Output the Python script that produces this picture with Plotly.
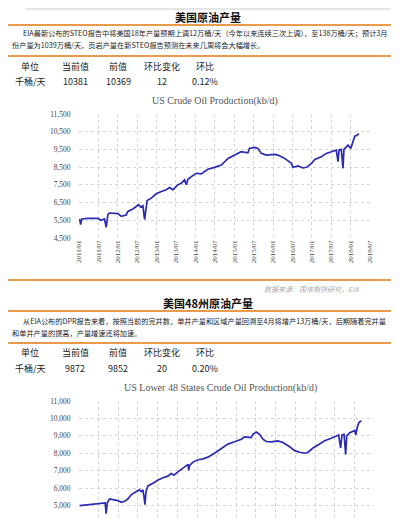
import plotly.graph_objects as go

# ---------------- data ----------------
title1 = "美国原油产量"
title2 = "美国48州原油产量"
para1 = ["EIA最新公布的STEO报告中将美国18年产量预期上调12万桶/天（今年以来连续三次上调），至138万桶/天；预计3月",
         "份产量为1039万桶/天，页岩产量在新STEO报告预测在未来几周将会大幅增长。"]
para2 = ["从EIA公布的DPR报告来看，按照当前的完井数，单井产量和区域产量回溯至4月将增产13万桶/天，后期随着完井量",
         "和单井产量的提高，产量增速还将加速。"]
table_cols = ["单位", "当前值", "前值", "环比变化", "环比"]
table1_vals = ["千桶/天", "10381", "10369", "12", "0.12%"]
table2_vals = ["千桶/天", "9872", "9852", "20", "0.20%"]
source_text = "数据来源：国信期货研究，EIA"
chart1_title = "US Crude Oil Production(kb/d)"
chart2_title = "US Lower 48 States Crude Oil Production(kb/d)"

dates1 = ["2011-01-07", "2011-01-16", "2011-01-28", "2011-03-24", "2011-06-27", "2011-07-28",
          "2011-08-29", "2011-09-14", "2011-09-30", "2011-10-15", "2012-01-03", "2012-02-03",
          "2012-03-20", "2012-04-05", "2012-05-22", "2012-06-22", "2012-07-14", "2012-08-02",
          "2012-08-25", "2012-09-03", "2012-09-10", "2012-09-19", "2012-10-04", "2012-11-11",
          "2012-12-28", "2013-02-14", "2013-04-01", "2013-05-02", "2013-06-03", "2013-06-18",
          "2013-07-19", "2013-08-20", "2013-09-21", "2013-10-06", "2013-10-22", "2013-11-23",
          "2014-01-09", "2014-02-25", "2014-04-12", "2014-04-27", "2014-06-29", "2014-09-01",
          "2014-11-03", "2015-01-05", "2015-03-07", "2015-05-09", "2015-05-24", "2015-07-10",
          "2015-08-11", "2015-09-12", "2015-10-29", "2016-01-16", "2016-02-17", "2016-04-19",
          "2016-06-21", "2016-07-06", "2016-08-23", "2016-10-09", "2016-11-10", "2016-12-27",
          "2017-01-28", "2017-03-30", "2017-05-16", "2017-07-02", "2017-08-18", "2017-09-03",
          "2017-09-13", "2017-10-04", "2017-10-20", "2017-10-29", "2017-12-06", "2018-01-01",
          "2018-01-14", "2018-02-08", "2018-03-01", "2018-03-19"]
vals1 = [5575, 5257, 5575, 5610, 5610, 5500,
         5575, 5107, 5818, 5911, 5874, 5724,
         5800, 6004, 6135, 6285, 6378, 6250,
         6320, 5818, 5537, 6004, 6620, 6750,
         6995, 7126, 7220, 7350, 7220, 7313,
         7500, 7593, 7780, 7500, 7818, 7967,
         8154, 8117, 8304, 8379, 8490, 8620,
         8995, 9182, 9370, 9313, 9556, 9612,
         9556, 9276, 9182, 9220, 9182, 8995,
         8715, 8490, 8565, 8453, 8490, 8715,
         8940, 9090, 9276, 9370, 9463, 8808,
         9463, 9500, 8434, 9500, 9743, 9556,
         9836, 10247, 10303, 10397]

dates2 = ["2011-01-07", "2011-03-23", "2011-06-25", "2011-08-10", "2011-09-01", "2011-09-10",
          "2011-09-20", "2011-10-11", "2011-11-11", "2011-12-28", "2012-01-28", "2012-02-28",
          "2012-03-29", "2012-04-29", "2012-06-15", "2012-07-16", "2012-08-01", "2012-08-16",
          "2012-08-26", "2012-09-04", "2012-09-14", "2012-10-02", "2012-11-18", "2013-01-04",
          "2013-02-19", "2013-04-05", "2013-05-06", "2013-05-31", "2013-07-07", "2013-08-08",
          "2013-09-08", "2013-10-09", "2013-10-15", "2013-10-24", "2013-11-24", "2014-01-10",
          "2014-02-25", "2014-04-11", "2014-06-12", "2014-08-13", "2014-10-14", "2014-12-15",
          "2015-02-16", "2015-03-17", "2015-04-17", "2015-05-18", "2015-06-03", "2015-07-04",
          "2015-08-04", "2015-09-04", "2015-10-05", "2015-11-21", "2016-01-22", "2016-03-08",
          "2016-05-09", "2016-06-25", "2016-08-10", "2016-09-26", "2016-10-27", "2016-12-12",
          "2017-01-28", "2017-03-30", "2017-05-30", "2017-07-16", "2017-08-07", "2017-08-25",
          "2017-09-07", "2017-09-26", "2017-10-11", "2017-10-21", "2017-11-18", "2018-01-04",
          "2018-01-13", "2018-01-26", "2018-02-10", "2018-03-05"]
vals2 = [5000, 5038, 5094, 5113, 5150, 4530,
         5150, 5375, 5338, 5281, 5188, 5244,
         5375, 5619, 5807, 5900, 5807, 5900,
         5525, 5056, 5807, 6126, 6276, 6463,
         6595, 6689, 6839, 6745, 6932, 7064,
         7214, 7364, 7026, 7308, 7495, 7627,
         7683, 7777, 8002, 8246, 8527, 8659,
         8809, 8940, 8902, 8902, 9090, 9221,
         9090, 8809, 8677, 8659, 8715, 8621,
         8377, 8152, 8058, 8002, 8058, 8302,
         8471, 8715, 8865, 8996, 9053, 8302,
         9053, 9090, 7927, 8996, 9184, 9315,
         9053, 9465, 9747, 9878]

# ---------------- layout helpers ----------------
W, H = 399, 519
def py(p):
    return 1 - p / H
def px(p):
    return p / W

CJK = "Noto Sans CJK SC"
SERIF = "Liberation Serif"
ORANGE = "#E89B4C"
LINE = "#2A2AB5"

fig = go.Figure()
fig.add_trace(go.Scatter(x=dates1, y=vals1, mode="lines", line=dict(color=LINE, width=1.7),
                         xaxis="x", yaxis="y", showlegend=False, hoverinfo="skip"))
fig.add_trace(go.Scatter(x=dates2, y=vals2, mode="lines", line=dict(color=LINE, width=1.7),
                         xaxis="x2", yaxis="y2", showlegend=False, hoverinfo="skip"))

xcommon = dict(type="date", range=["2011-01-01", "2018-07-01"], tick0="2011-01-01", dtick="M6",
               tickformat="%Y/%m", tickangle=-90, showgrid=True, gridcolor="#d4d4d4",
               griddash="dot", gridwidth=1, zeroline=False, showline=False, automargin=False,
               tickfont=dict(family=SERIF, size=7, color="#444"), ticks="")
ycommon = dict(showgrid=True, gridcolor="#d4d4d4", griddash="dot", gridwidth=1, zeroline=False,
               showline=False, tickformat=",d", dtick=1000, ticks="outside", ticklen=6,
               automargin=False,
               tickcolor="rgba(0,0,0,0)", tickfont=dict(family=SERIF, size=7.5, color="#444"))

fig.update_layout(
    width=W, height=H, margin=dict(l=0, r=0, t=0, b=0),
    paper_bgcolor="white", plot_bgcolor="white",
    xaxis=dict(domain=[px(71), px(362)], anchor="y", **xcommon),
    yaxis=dict(domain=[py(230), py(106)], anchor="x", range=[4500, 11500], tick0=4500, **ycommon),
    # the second chart's date labels fall below the bottom edge of the reference picture
    xaxis2=dict(domain=[px(71), px(366)], anchor="y2", showticklabels=False, **xcommon),
    yaxis2=dict(domain=[py(515), py(393)], anchor="x2", range=[4000, 11000], tick0=4000, **ycommon),
)

shapes = []
def hline(y, x0=0, x1=W, color=ORANGE, width=2):
    shapes.append(dict(type="line", xref="paper", yref="paper", x0=px(x0), x1=px(x1),
                       y0=py(y), y1=py(y), line=dict(color=color, width=width)))
hline(1, 17, 383, color="#cccccc", width=1)
for yy in [17, 48, 272, 303, 335]:
    hline(yy)

ann = []
def text(t, x, y, size, xanchor="center", color="#222", family=CJK, bold=False, italic=False):
    s = t
    if bold:
        s = "<b>" + s + "</b>"
    if italic:
        s = "<i>" + s + "</i>"
    ann.append(dict(text=s, x=px(x), y=py(y), xref="paper", yref="paper", showarrow=False,
                    xanchor=xanchor, yanchor="middle", font=dict(family=family, size=size, color=color)))

# section 1
text(title1, 200, 9, 11, bold=True, color="#111")
text(para1[0], 13, 25, 7.2, xanchor="left")
text(para1[1], 2, 37, 7.2, xanchor="left")
col_x = [22, 67, 110, 154, 197]
for cx, c in zip(col_x, table_cols):
    text(c, cx, 58, 9)
for cx, v in zip(col_x, table1_vals):
    text(v, cx, 74, 9)
text(chart1_title, 207, 93, 10, family=SERIF, color="#555")
text(source_text, 353, 281, 7, xanchor="right", color="#aaa", italic=True)

# section 2
text(title2, 200, 295, 11, bold=True, color="#111")
text(para2[0], 13, 313, 7.2, xanchor="left")
text(para2[1], 2, 325, 7.2, xanchor="left")
for cx, c in zip(col_x, table_cols):
    text(c, cx, 344, 9)
for cx, v in zip(col_x, table2_vals):
    text(v, cx, 360, 9)
text(chart2_title, 212, 380, 10, family=SERIF, color="#555")

fig.update_layout(shapes=shapes, annotations=ann)
fig.write_html("out.html")
